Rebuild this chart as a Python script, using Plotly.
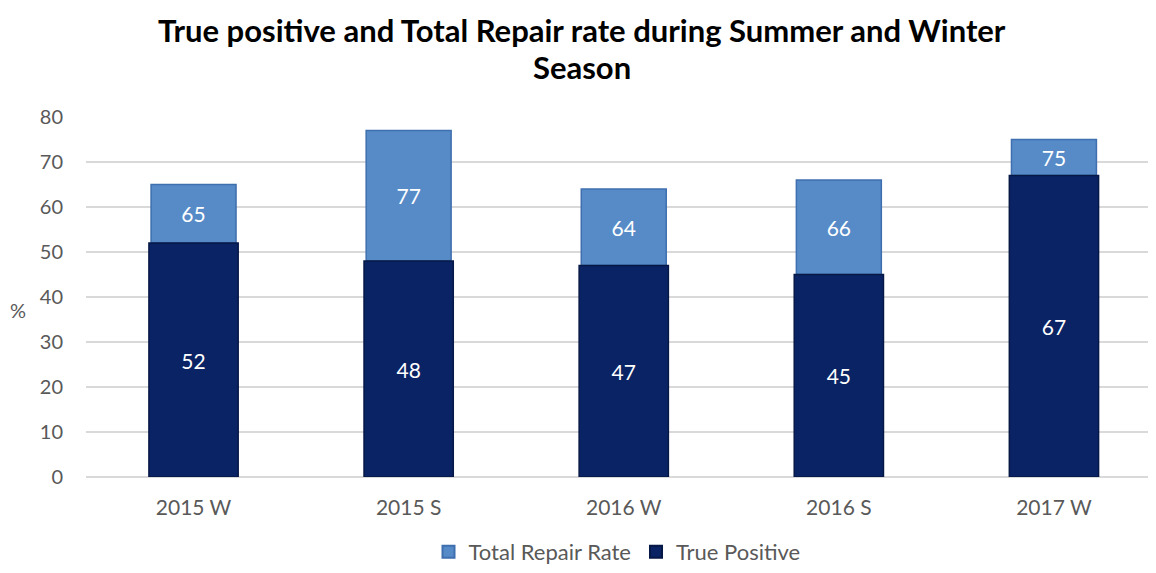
import plotly.graph_objects as go

categories = ["2015 W", "2015 S", "2016 W", "2016 S", "2017 W"]
total_repair = [65, 77, 64, 66, 75]
true_positive = [52, 48, 47, 45, 67]
y_ticks = [0, 10, 20, 30, 40, 50, 60, 70, 80]
title_lines = ["True positive and Total Repair rate during Summer and Winter", "Season"]

LIGHT = "#568BC8"
DARK = "#0A2364"
FONT = "Lato, 'Open Sans', sans-serif"

# page body has an 8px margin; work in reference-pixel coordinates and shift
OFF = 8
W, H = 1156 - 2 * OFF, 573 - 2 * OFF
L = 86 - OFF
T = 117 - OFF
B = H - (477 - OFF)
PW, PH = W - L, H - T - B

def px_x(x):
    return (x - OFF - L) / PW

def px_y(y):
    return (H - B - (y - OFF)) / PH

upper_part = [t - p for t, p in zip(total_repair, true_positive)]

fig = go.Figure()
fig.add_trace(go.Bar(
    x=categories, y=upper_part, base=true_positive,
    name="Total Repair Rate",
    text=[str(v) for v in total_repair], textposition="inside",
    insidetextanchor="middle",
    textfont=dict(color="white", size=21, family=FONT),
    marker=dict(color=LIGHT, line=dict(color="#3F6FAE", width=1.5)),
    width=0.395, hoverinfo="skip",
))
fig.add_trace(go.Bar(
    x=categories, y=true_positive,
    name="True Positive",
    text=[str(v) for v in true_positive], textposition="inside",
    insidetextanchor="middle",
    textfont=dict(color="white", size=21, family=FONT),
    marker=dict(color=DARK, line=dict(color="#061846", width=1.5)),
    width=0.415, hoverinfo="skip",
))

annotations = [
    dict(text="<b>%s</b>" % title_lines[0], x=px_x(582), y=px_y(9), xref="paper", yref="paper",
         showarrow=False, xanchor="center", yanchor="top",
         font=dict(size=31, color="black", family=FONT)),
    dict(text="<b>%s</b>" % title_lines[1], x=px_x(582), y=px_y(67), xref="paper", yref="paper",
         showarrow=False, xanchor="center", yanchor="middle",
         font=dict(size=31, color="black", family=FONT)),
    dict(text="%", x=px_x(18), y=px_y(310), xref="paper", yref="paper", showarrow=False,
         xanchor="center", yanchor="middle", font=dict(size=20, color="#595959", family=FONT)),
]

x_right = -0.5 + (1148 - 86) / 215.1

fig.update_layout(
    width=W, height=H,
    barmode="overlay",
    plot_bgcolor="white", paper_bgcolor="white",
    margin=dict(l=L, r=0, t=T, b=B, autoexpand=False),
    font=dict(family=FONT, color="#595959"),
    xaxis=dict(
        range=[-0.5, x_right], showgrid=False, showline=False, zeroline=False,
        tickfont=dict(size=21, color="#595959"), ticks="", automargin=False,
        ticklabelstandoff=16,
    ),
    yaxis=dict(
        range=[0, 80], tickvals=y_ticks, showgrid=True, gridcolor="#D9D9D9",
        gridwidth=1.5, zeroline=True, zerolinecolor="#D9D9D9", zerolinewidth=1.5,
        tickfont=dict(size=20, color="#595959"), ticks="", ticklabelstandoff=22,
        automargin=False,
    ),
    legend=dict(
        orientation="h", x=0.5, xanchor="center", y=px_y(552), yanchor="middle",
        font=dict(size=22, color="#595959"), traceorder="normal",
        itemsizing="constant", itemwidth=30,
    ),
    annotations=annotations,
)

fig.write_html("out.html")
